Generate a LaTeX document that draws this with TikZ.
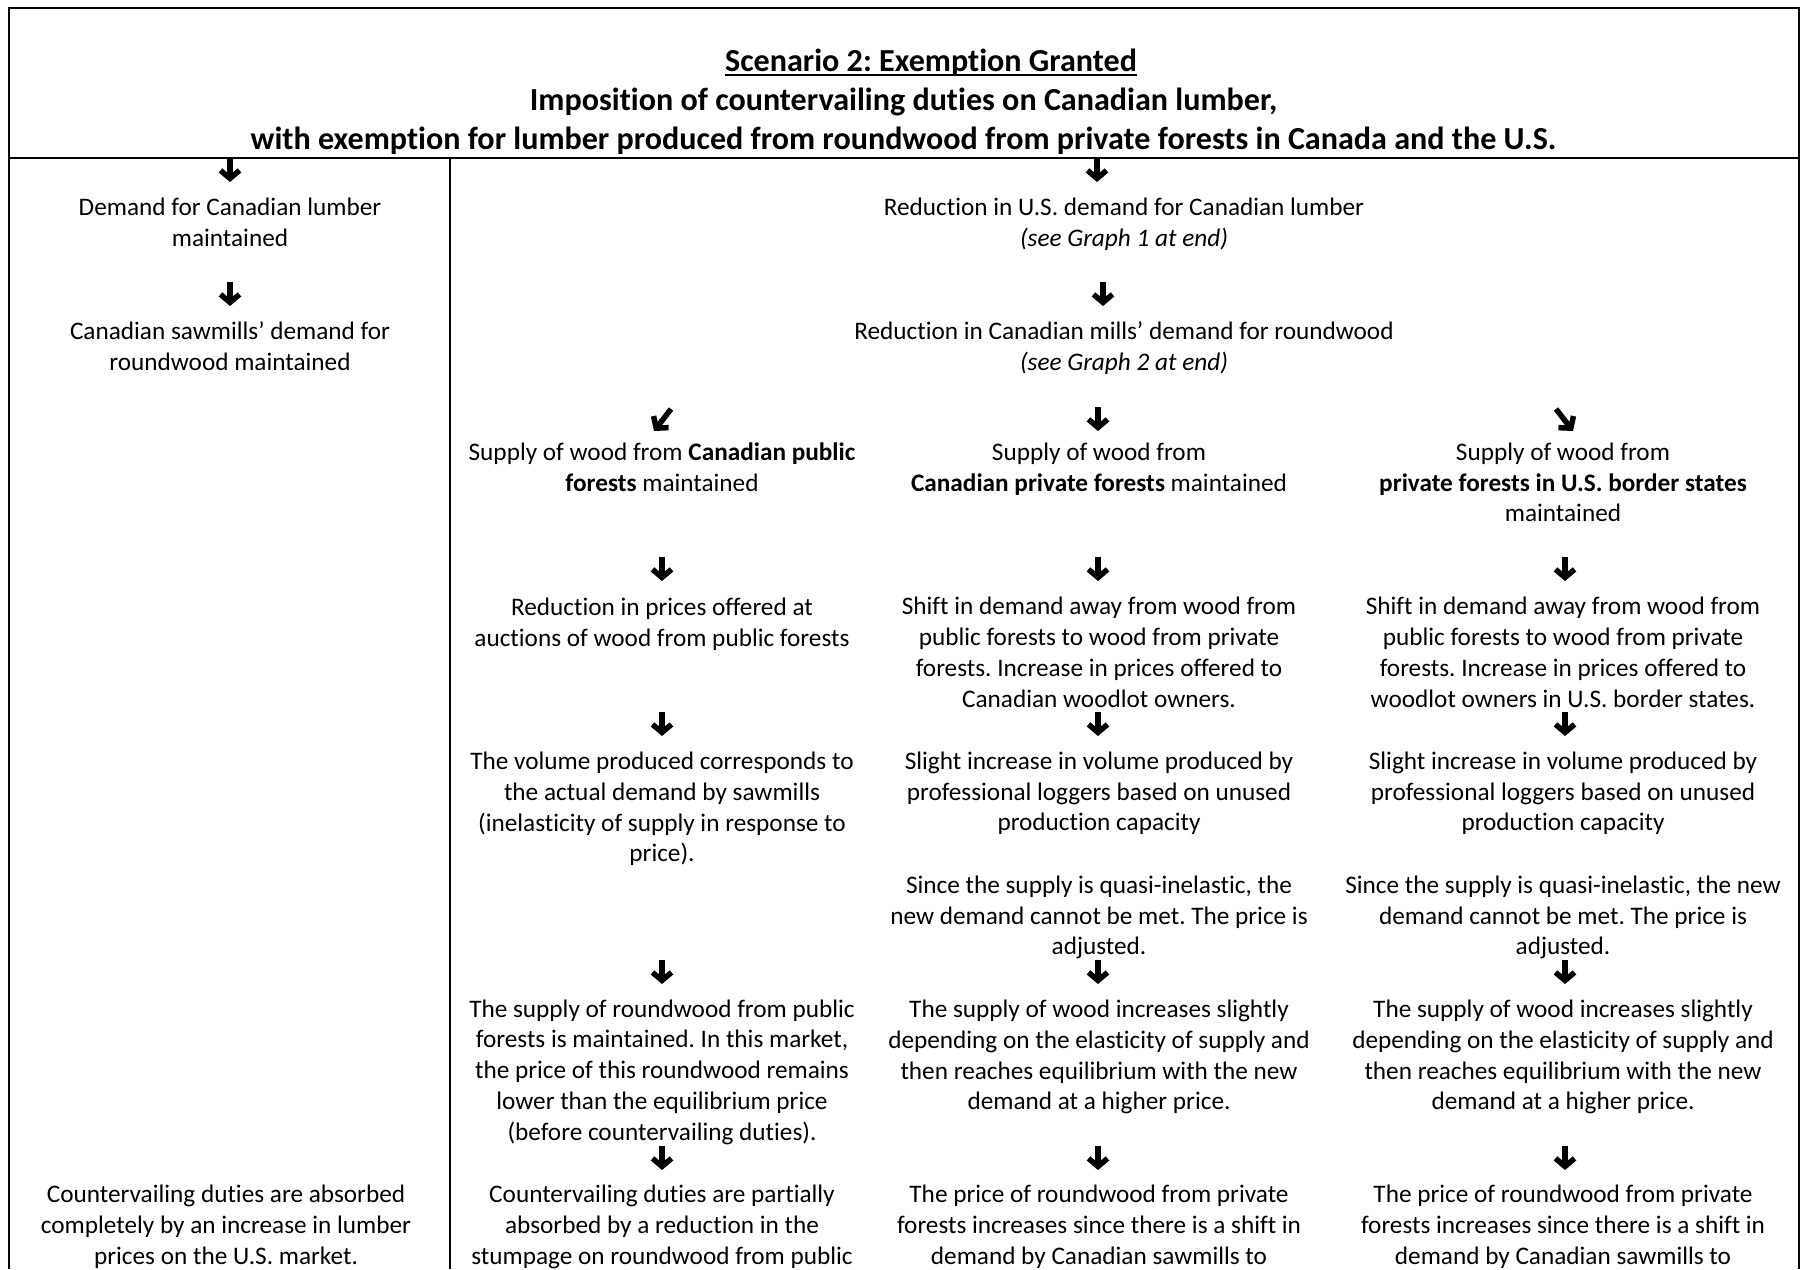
\documentclass[tikz,border=0pt]{standalone}
\usepackage{fontspec}
\setmainfont{Carlito}[Ligatures={TeX,NoCommon}]
\usetikzlibrary{arrows.meta}
\frenchspacing
\tikzset{
  txt/.style={align=center, inner sep=0pt, yshift=-3pt, font=\fontsize{25.25}{30.8}\selectfont\frenchspacing},
  ttl/.style={inner sep=0pt, anchor=base, font=\fontsize{32.1}{39}\selectfont\bfseries\frenchspacing},
  bigarr/.style={line width=5.5pt, -{Straight Barb[length=8pt,width=19pt]}},
  frame/.style={line width=2pt},
}
\newcommand\varr[3]{\coordinate (#1s) at (#2,#3-12); \coordinate (#1e) at (#2,#3+12); \draw[bigarr] (#1s) -- (#1e);}
\begin{document}
\begin{tikzpicture}[x=1pt,y=-1pt]
\useasboundingbox (0,0) rectangle (1801,1269);
% frame
\coordinate (fbl) at (8.5,1269);
\coordinate (ftl) at (8.5,7.5);
\coordinate (ftr) at (1798.5,7.5);
\coordinate (fbr) at (1798.5,1269);
\coordinate (hl) at (8.5,157.5);
\coordinate (hr) at (1798.5,157.5);
\coordinate (dt) at (449.5,157.5);
\coordinate (db) at (449.5,1269);
\draw[frame] (fbl) -- (ftl) -- (ftr) -- (fbr);
\draw[frame] (hl) -- (hr);
\draw[frame] (dt) -- (db);
% title
\node[ttl] (t1) at (931,71.5) {Scenario 2: Exemption Granted};
\draw[line width=2.2pt] ([yshift=-3.5pt]t1.base west) -- ([yshift=-3.5pt]t1.base east);
\node[ttl] (t2) at (903.5,110.5) {Imposition of countervailing duties on Canadian lumber,};
\node[ttl] (t3) at (903.5,149.5) {with exemption for lumber produced from roundwood from private forests in Canada and the U.S.};
% left column
\node[txt] (L1) at (230,221.5) {\strut Demand for Canadian lumber\\maintained\strut};
\node[txt] (L2) at (230,345.5) {\strut Canadian sawmills’ demand for\\roundwood maintained\strut};
\node[txt] (L3) at (226,1224.5) {\strut Countervailing duties are absorbed\\completely by an increase in lumber\\prices on the U.S. market.\strut};
% right top
\node[txt] (R1) at (1124,221.5) {\strut Reduction in U.S. demand for Canadian lumber\\\textit{(see Graph 1 at end)}\strut};
\node[txt] (R2) at (1124,345.5) {\strut Reduction in Canadian mills’ demand for roundwood\\\textit{(see Graph 2 at end)}\strut};
% column A
\node[txt] (A1) at (662,466.5) {\strut Supply of wood from \textbf{Canadian public}\\\textbf{forests} maintained\strut};
\node[txt] (A2) at (662,621.5) {\strut Reduction in prices offered at\\auctions of wood from public forests\strut};
\node[txt] (A3) at (662,806.5) {\strut The volume produced corresponds to\\the actual demand by sawmills\\(inelasticity of supply in response to\\price).\strut};
\node[txt] (A4) at (662,1069.5) {\strut The supply of roundwood from public\\forests is maintained. In this market,\\the price of this roundwood remains\\lower than the equilibrium price\\(before countervailing duties).\strut};
\node[txt] (A5) at (662,1224.5) {\strut Countervailing duties are partially\\absorbed by a reduction in the\\stumpage on roundwood from public\strut};
% column B
\node[txt] (B1) at (1099,466.5) {\strut Supply of wood from\\\textbf{Canadian private forests} maintained\strut};
\node[txt] (B2) at (1099,652) {\strut Shift in demand away from wood from\\public forests to wood from private\\forests. Increase in prices offered to\\Canadian woodlot owners.\strut};
\node[txt] (B3) at (1099,791) {\strut Slight increase in volume produced by\\professional loggers based on unused\\production capacity\strut};
\node[txt] (B4) at (1099,915) {\strut Since the supply is quasi-inelastic, the\\new demand cannot be met. The price is\\adjusted.\strut};
\node[txt] (B5) at (1099,1054.5) {\strut The supply of wood increases slightly\\depending on the elasticity of supply and\\then reaches equilibrium with the new\\demand at a higher price.\strut};
\node[txt] (B6) at (1099,1224.5) {\strut The price of roundwood from private\\forests increases since there is a shift in\\demand by Canadian sawmills to\strut};
% column C
\node[txt] (C1) at (1563,482) {\strut Supply of wood from\\\textbf{private forests in U.S. border states}\\maintained\strut};
\node[txt] (C2) at (1563,652) {\strut Shift in demand away from wood from\\public forests to wood from private\\forests. Increase in prices offered to\\woodlot owners in U.S. border states.\strut};
\node[txt] (C3) at (1563,791) {\strut Slight increase in volume produced by\\professional loggers based on unused\\production capacity\strut};
\node[txt] (C4) at (1563,915) {\strut Since the supply is quasi-inelastic, the new\\demand cannot be met. The price is\\adjusted.\strut};
\node[txt] (C5) at (1563,1054.5) {\strut The supply of wood increases slightly\\depending on the elasticity of supply and\\then reaches equilibrium with the new\\demand at a higher price.\strut};
\node[txt] (C6) at (1563,1224.5) {\strut The price of roundwood from private\\forests increases since there is a shift in\\demand by Canadian sawmills to\strut};
% arrows
\varr{aL1}{230}{170}
\varr{aR1}{1097}{170}
\varr{aL2}{230}{294}
\varr{aR2}{1103}{294}
\coordinate (dAs) at (671,409); \coordinate (dAe) at (654,431);
\draw[bigarr] (dAs) -- (dAe);
\varr{aB0}{1098}{419}
\coordinate (dCs) at (1556,409); \coordinate (dCe) at (1573,431);
\draw[bigarr] (dCs) -- (dCe);
\varr{aA1}{662}{569}
\varr{aB1}{1098}{569}
\varr{aC1}{1565}{569}
\varr{aA2}{662}{724}
\varr{aB2}{1098}{724}
\varr{aC2}{1565}{724}
\varr{aA3}{662}{972}
\varr{aB3}{1098}{972}
\varr{aC3}{1565}{972}
\varr{aA4}{662}{1158}
\varr{aB4}{1098}{1158}
\varr{aC4}{1565}{1158}
\end{tikzpicture}
\end{document}
